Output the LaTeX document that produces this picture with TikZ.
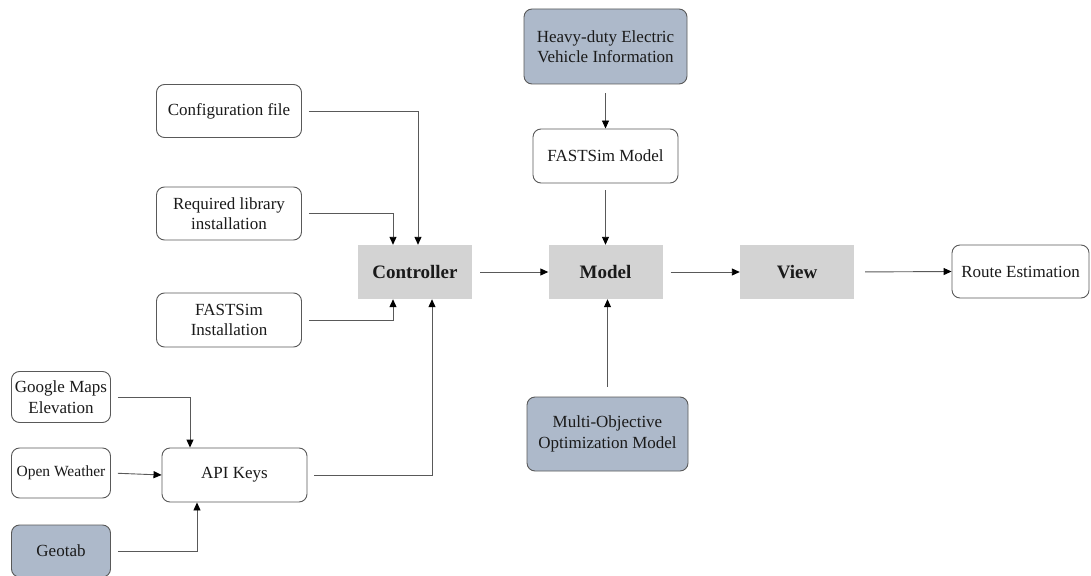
\documentclass[tikz,border=0pt]{standalone}
\usepackage{fontspec}
\setmainfont{Liberation Serif}
\usetikzlibrary{arrows.meta}
\definecolor{boxgray}{HTML}{D3D3D3}
\definecolor{boxblue}{HTML}{ADB9CA}
\definecolor{linegray}{HTML}{595959}
\definecolor{txt}{HTML}{1A1A1A}
\begin{document}
\begin{tikzpicture}[x=1pt,y=-1pt,
  every node/.style={text=txt,font=\fontsize{17}{20.5}\selectfont,align=center,inner sep=0pt},
  rbox/.style={draw=linegray,line width=0.9pt,rounded corners=8pt,fill=white},
  dbox/.style={draw=linegray,line width=0.9pt,rounded corners=8pt,fill=boxblue},
  gbox/.style={fill=boxgray,font=\fontsize{19}{22}\selectfont\bfseries},
  conn/.style={draw=linegray,line width=0.9pt,-{Triangle[length=8pt,width=7pt,color=black]},shorten <=7pt}]
\useasboundingbox (0,0) rectangle (1091,575);
% nodes
\node[rbox,minimum width=145,minimum height=53] (cfg) at (229,111) {Configuration file};
\node[rbox,minimum width=145,minimum height=53] (req) at (229,213.5) {Required library\\installation};
\node[rbox,minimum width=145,minimum height=54] (fin) at (229,320) {FASTSim\\Installation};
\node[gbox,minimum width=114,minimum height=54] (ctrl) at (415,272) {Controller};
\node[rbox,minimum width=99,minimum height=51] (gme) at (61,397) {Google Maps\\Elevation};
\node[rbox,minimum width=99,minimum height=50,font=\fontsize{15.5}{19}\selectfont] (ow) at (61,473) {Open Weather};
\node[dbox,minimum width=99,minimum height=52] (geo) at (61,551) {Geotab};
\node[rbox,minimum width=145,minimum height=54] (api) at (234.5,475) {API Keys};
\node[gbox,minimum width=114,minimum height=54] (model) at (605.5,272) {Model};
\node[gbox,minimum width=114,minimum height=54] (view) at (797,272) {View};
\node[rbox,minimum width=137,minimum height=53] (route) at (1020.5,271.5) {Route Estimation};
\node[dbox,minimum width=163,minimum height=75] (heavy) at (605.5,46.5) {Heavy-duty Electric\\Vehicle Information};
\node[rbox,minimum width=145,minimum height=54] (fsm) at (605.5,156) {FASTSim Model};
\node[dbox,minimum width=161,minimum height=74] (moo) at (607.5,434) {Multi-Objective\\Optimization Model};
% connectors
\draw[conn] (cfg.east) -| ([xshift=3pt]ctrl.north);
\draw[conn] (req.east) -| ([xshift=-22pt]ctrl.north);
\draw[conn] (fin.east) -| ([xshift=-22pt]ctrl.south);
\draw[conn] (api.east) -| ([xshift=17pt]ctrl.south);
\draw[conn] (gme.east) -| ([xshift=-44.5pt]api.north);
\draw[conn] (ow.east) -- (api.west);
\draw[conn] (geo.east) -| ([xshift=-37.5pt]api.south);
\draw[conn,shorten <=8pt] (ctrl.east) -- (model.west);
\draw[conn,shorten <=8pt] (model.east) -- (view.west);
\draw[conn,shorten <=11pt] (view.east) -- (route.west);
\draw[conn,shorten <=9pt] (heavy.south) -- (fsm.north);
\draw[conn] (fsm.south) -- (model.north);
\draw[conn,shorten <=10pt] (moo.north) -- (moo.north |- model.south);
\end{tikzpicture}
\end{document}
